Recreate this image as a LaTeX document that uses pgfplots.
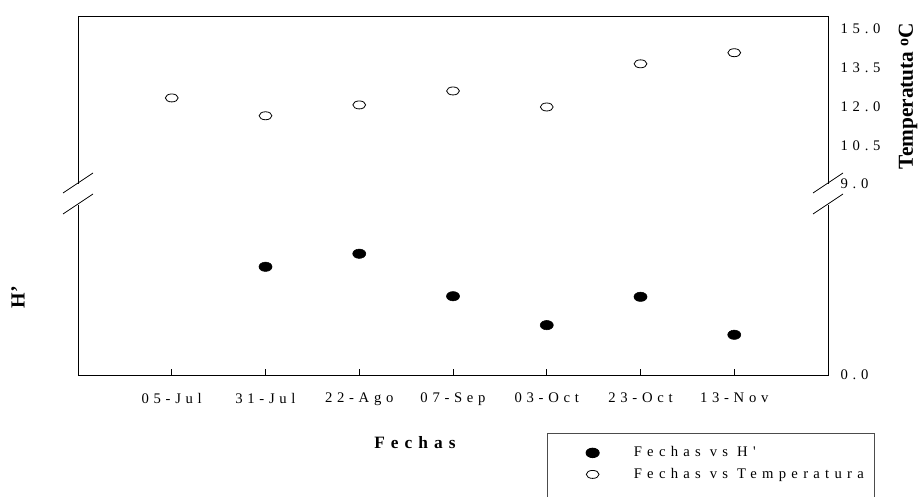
\documentclass[border=0pt]{standalone}
\usepackage{fontspec}
\setmainfont{Liberation Serif}
\newfontfamily\spaced[LetterSpace=32]{Liberation Serif}
\newfontfamily\spacedL[LetterSpace=36]{Liberation Serif}
\newfontfamily\spacedT[LetterSpace=35]{Liberation Serif}
\usepackage{pgfplots}
\usepackage{pgfplotstable}
\pgfplotsset{compat=1.18}
\pgfplotstableread{
x H
1 1.91
2 2.14
3 1.39
4 0.88
5 1.38
6 0.71
}\Hdata
\pgfplotstableread{
x T
0 12.33
1 11.64
2 12.06
3 12.60
4 11.98
5 13.65
6 14.08
}\Tdata
\begin{document}
\begin{tikzpicture}
\clip (0,0) rectangle (692.25pt,372pt);
\pgfplotsset{
  common/.style={
    scale only axis, width=562.5pt, xmin=-1, xmax=7,
    axis line style={draw=none},
    /pgf/number format/assume math mode=true,
    ticklabel style={font=\spaced\fontsize{11}{13}\selectfont},
    yticklabel pos=right, ytick pos=right,
    ytick style={draw=none},
    yticklabel style={xshift=6pt},
    clip=false,
  },
  hmark/.style={only marks, mark=*, mark size=3.5pt, mark options={xscale=1.4, fill=black, draw=black}},
  tmark/.style={only marks, mark=o, mark size=3pt, mark options={xscale=1.6, draw=black, line width=0.6pt}},
}
\begin{axis}[common, at={(58.5pt,90.75pt)}, anchor=south west, height=127.5pt, ymin=0, ymax=3,
  xtick={0,...,6}, xticklabels={05-Jul,31-Jul,22-Ago,07-Sep,03-Oct,23-Oct,13-Nov},
  xtick pos=bottom, tick align=inside, major tick length=4.5pt,
  xtick style={draw=black, line width=0.75pt},
  xticklabel style={yshift=-10pt},
  ytick={0}, yticklabels={0.0},
  legend style={at={(0.6253,-0.341)}, anchor=north west, draw=black!70, line width=0.75pt,
    font=\spacedL\fontsize{11}{13}\selectfont, inner xsep=6pt, inner ysep=8pt, row sep=3pt},
  legend cell align=left,
  legend image code/.code={\path (0pt,0pt) (56pt,0pt); \draw[#1] plot coordinates {(27.5pt,0pt)};},
]
\draw[line width=0.75pt] (rel axis cs:0,1) -- (rel axis cs:0,0) -- (rel axis cs:1,0) -- (rel axis cs:1,1);
\addplot[hmark] table[x=x,y=H] {\Hdata};
\addlegendentry{Fechas vs H'}
\addlegendimage{tmark}
\addlegendentry{Fechas vs Temperatura}
\addlegendimage{empty legend}
\addlegendentry{}
\end{axis}
\begin{axis}[common, at={(58.5pt,234pt)}, anchor=south west, height=126pt, ymin=9, ymax=15.5,
  xtick=\empty,
  ytick={9,10.5,12,13.5,15}, yticklabels={9.0,10.5,12.0,13.5,15.0},
]
\draw[line width=0.75pt] (rel axis cs:0,0) -- (rel axis cs:0,1) -- (rel axis cs:1,1) -- (rel axis cs:1,0);
\addplot[tmark] table[x=x,y=T] {\Tdata};
\end{axis}
\draw[line width=0.6pt] (47.25pt,227.25pt) -- (69.75pt,242.25pt);
\draw[line width=0.6pt] (47.25pt,211.5pt) -- (69.75pt,226.5pt);
\draw[line width=0.6pt] (609.75pt,227.25pt) -- (632.25pt,242.25pt);
\draw[line width=0.6pt] (609.75pt,211.5pt) -- (632.25pt,226.5pt);
\node[font=\spacedT\bfseries\fontsize{13}{15}\selectfont] at (311.25pt,39.75pt) {Fechas};
\node[rotate=90, font=\bfseries\fontsize{15}{17}\selectfont] at (13.5pt,149pt) {H'};
\node[rotate=90, font=\bfseries\fontsize{16}{18}\selectfont] at (681pt,300pt) {Temperatuta {\fontsize{12}{12}\selectfont\raisebox{0.6ex}{o}}C};
\end{tikzpicture}
\end{document}
